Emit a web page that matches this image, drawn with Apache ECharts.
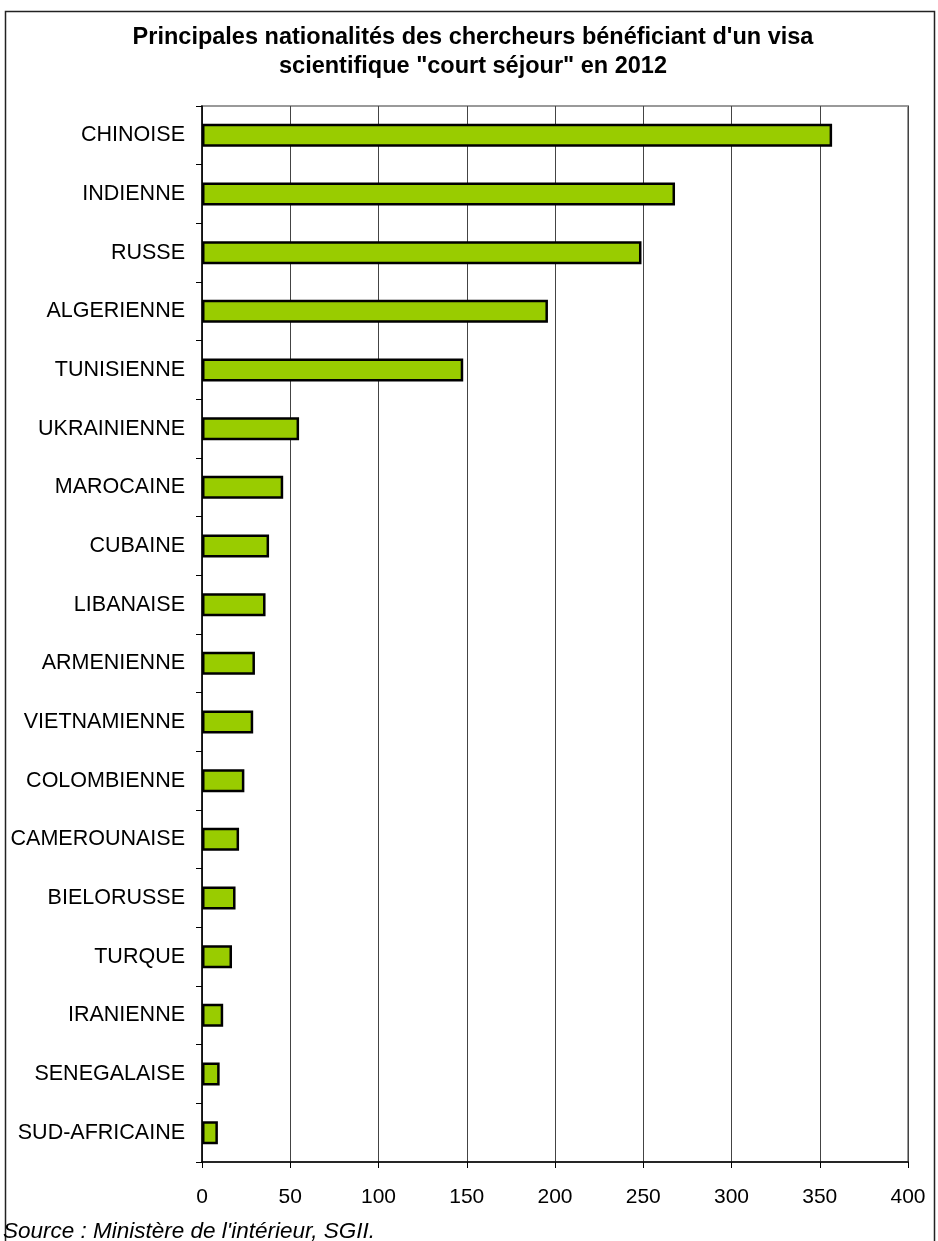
<!DOCTYPE html>
<html>
<head>
<meta charset="utf-8">
<script src="https://cdn.jsdelivr.net/npm/echarts@6/dist/echarts.min.js"></script>
<style>
  html, body { margin: 0; padding: 0; background: #fff; }
  #chart { width: 938px; height: 1241px; }
</style>
</head>
<body>
<div id="chart"></div>
<script>
// Nationalities, from largest to smallest
const nationalites = [
  'CHINOISE', 'INDIENNE', 'RUSSE', 'ALGERIENNE', 'TUNISIENNE', 'UKRAINIENNE',
  'MAROCAINE', 'CUBAINE', 'LIBANAISE', 'ARMENIENNE', 'VIETNAMIENNE', 'COLOMBIENNE',
  'CAMEROUNAISE', 'BIELORUSSE', 'TURQUE', 'IRANIENNE', 'SENEGALAISE', 'SUD-AFRICAINE'
];
// Number of researchers with a short-stay scientific visa
const chercheurs = [357, 268, 249, 196, 148, 55, 46, 38, 36, 30, 29, 24, 21, 19, 17, 12, 10, 9];
// Value axis ticks
const axeMin = 0, axeMax = 400, axePas = 50;

const titre = 'Principales nationalités des chercheurs bénéficiant d\'un visa\nscientifique "court séjour" en 2012';
const source = 'Source : Ministère de l\'intérieur, SGII.';

const chart = echarts.init(document.getElementById('chart'), null, { renderer: 'canvas' });
const font = 'Liberation Sans, Arial, sans-serif';

chart.setOption({
  animation: false,
  backgroundColor: '#ffffff',
  title: {
    text: titre,
    left: 468,
    top: 18,
    textAlign: 'center',
    textStyle: { fontFamily: font, fontWeight: 'bold', fontSize: 23.5, lineHeight: 29, color: '#000' }
  },
  graphic: [
    {
      type: 'rect',
      shape: { x: 5.5, y: 11.5, width: 929, height: 1260 },
      style: { fill: 'none', stroke: '#222', lineWidth: 1.5 },
      silent: true, z: -1
    },
    {
      type: 'text',
      left: 3,
      top: 1220,
      style: { text: source, fontFamily: font, fontStyle: 'italic', fontSize: 22.5, fill: '#000' }
    }
  ],
  grid: {
    left: 202, right: 30, top: 106, bottom: 79,
    show: true, borderColor: '#999', borderWidth: 2, backgroundColor: 'transparent'
  },
  xAxis: {
    type: 'value',
    min: axeMin, max: axeMax, interval: axePas,
    axisLine: { show: true, lineStyle: { color: '#000', width: 1.5 } },
    axisTick: { show: true, length: 6, lineStyle: { color: '#000' } },
    axisLabel: { fontFamily: font, fontSize: 21, color: '#000', margin: 25 },
    splitLine: { show: true, lineStyle: { color: '#444', width: 1 } }
  },
  yAxis: {
    type: 'category',
    data: nationalites,
    inverse: true,
    axisLine: { show: true, lineStyle: { color: '#000', width: 1.5 } },
    axisTick: { show: true, length: 6, lineStyle: { color: '#000' } },
    axisLabel: { fontFamily: font, fontSize: 21.5, color: '#000', margin: 17 },
    splitLine: { show: false }
  },
  series: [{
    type: 'bar',
    data: chercheurs,
    barWidth: 23,
    itemStyle: { color: '#99cc00', borderColor: '#000', borderWidth: 2.5 },
    z: 3
  }]
});
</script>
</body>
</html>
